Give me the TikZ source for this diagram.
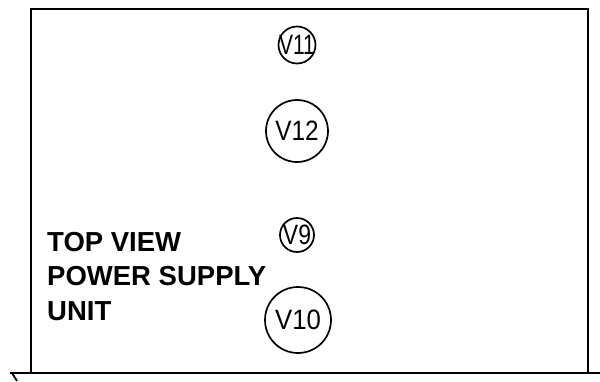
\documentclass[tikz,border=0pt]{standalone}
\usepackage{fontspec}
\setmainfont{Liberation Sans}
\usepackage{graphicx}
\usepackage{tikz}

\newcommand{\squeeze}[2]{\scalebox{#1}[1]{#2}}

\begin{document}
\begin{tikzpicture}
[x=1pt,y=-1pt,
 valve/.style={inner sep=0pt,font=\fontsize{28}{28}\selectfont},
 ring/.style={line width=1.7pt},
 frame/.style={line width=2.8pt,line cap=rect}]
\useasboundingbox (0,0) rectangle (600,381);
% chassis outline
\coordinate (tl) at (31,9);
\coordinate (tr) at (588,9);
\coordinate (bl) at (31,373);
\coordinate (br) at (588,373);
\coordinate (fl) at (10,373);
\coordinate (fr) at (600,373);
\coordinate (tick) at (17,381);
\draw[frame] (bl) -- (tl) -- (tr) -- (br);
\draw[frame,line cap=butt] (fl) -- (fr);
\draw[line width=1.8pt] (12,373) -- (tick);
% valves
\node[valve] (v11) at (297,45) {\squeeze{0.75}{V11}};
\node[valve] (v12) at (297,131) {\squeeze{0.87}{V12}};
\node[valve] (v9) at (297,235) {\squeeze{0.82}{V9}};
\node[valve] (v10) at (298,320) {\squeeze{0.92}{V10}};
\draw[ring] (v11.center) circle (18.5pt);
\draw[ring] (v12.center) circle (31pt);
\draw[ring] (v9.center) circle (17pt);
\draw[ring] (v10.center) circle (33pt);
% label
\node[anchor=north west,inner sep=0pt,align=left,font=\bfseries\fontsize{27.5}{34.5}\selectfont] (title) at (47,232)
  {TOP VIEW\\POWER SUPPLY\\UNIT};
\end{tikzpicture}
\end{document}
